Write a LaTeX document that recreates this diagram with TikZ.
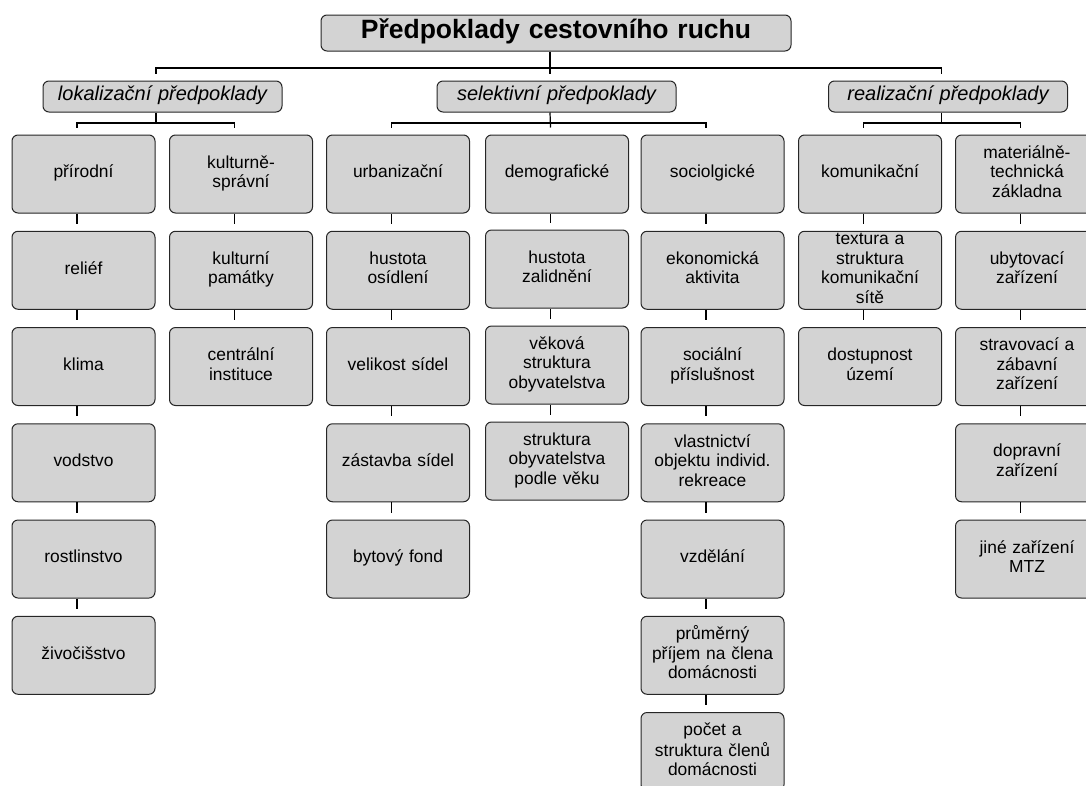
\documentclass[tikz,border=0pt]{standalone}
\usepackage{fontspec}
\setmainfont{Liberation Sans}
\definecolor{seda}{RGB}{211,211,211}
\tikzset{
  krabice/.style={draw=black!85, line width=1pt, fill=seda, rounded corners=6pt,
    minimum width=143pt, minimum height=78pt, text width=141pt, inner sep=0pt,
    align=center, font=\fontsize{17.4}{19.5}\selectfont,
    execute at begin node=\strut, execute at end node=\strut},
  skupina/.style={krabice, minimum width=239pt, minimum height=31pt, text width=237pt,
    font=\fontsize{20}{22}\selectfont\itshape},
  hlavni/.style={krabice, minimum width=470pt, minimum height=36pt, text width=468pt,
    font=\fontsize{26.5}{28}\selectfont\bfseries},
  spoj/.style={line width=1.2pt, black}
}
\begin{document}
\begin{tikzpicture}[x=1pt, y=-1pt]
        \useasboundingbox (0,0) rectangle (1086,785);

        % urovne vetveni
        \coordinate (l1) at (0,68);
        \coordinate (l3) at (0,123);

        % hlavni nadpis a skupiny
        \node[hlavni] (hlav) at (556,33) {Předpoklady cestovního ruchu};
        \node[skupina] (lok) at (162.5,96.5) {lokalizační předpoklady};
        \node[skupina] (sel) at (556.5,96.5) {selektivní předpoklady};
        \node[skupina] (real) at (948,96.5) {realizační předpoklady};

        % lokalizacni
        \node[krabice] (prir) at (83.5,174) {přírodní};
        \node[krabice] (relief) at (83.5,270.25) {reliéf};
        \node[krabice] (klima) at (83.5,366.5) {klima};
        \node[krabice] (vodstvo) at (83.5,462.75) {vodstvo};
        \node[krabice] (rostl) at (83.5,559) {rostlinstvo};
        \node[krabice] (zivoc) at (83.5,655.25) {živočišstvo};

        \node[krabice] (kult) at (241,174) {kulturně-\\správní};
        \node[krabice] (pamatky) at (241,270.25) {kulturní\\památky};
        \node[krabice] (instit) at (241,366.5) {centrální\\instituce};

        % selektivni
        \node[krabice] (urban) at (398,174) {urbanizační};
        \node[krabice] (osidl) at (398,270.25) {hustota\\osídlení};
        \node[krabice] (velik) at (398,366.5) {velikost sídel};
        \node[krabice] (zastav) at (398,462.75) {zástavba sídel};
        \node[krabice] (bytfond) at (398,559) {bytový fond};

        \node[krabice] (demo) at (557,174) {demografické};
        \node[krabice] (zalid) at (557,269) {hustota\\zalidnění};
        \node[krabice] (vekova) at (557,365) {věková\\struktura\\obyvatelstva};
        \node[krabice] (strukt) at (557,461) {struktura\\obyvatelstva\\podle věku};

        \node[krabice] (socio) at (712.5,174) {sociolgické};
        \node[krabice] (ekon) at (712.5,270.25) {ekonomická\\aktivita};
        \node[krabice] (social) at (712.5,366.5) {sociální\\příslušnost};
        \node[krabice] (vlastn) at (712.5,462.75) {vlastnictví\\objektu individ.\\rekreace};
        \node[krabice] (vzdel) at (712.5,559) {vzdělání};
        \node[krabice] (prijem) at (712.5,655.25) {průměrný\\příjem na člena\\domácnosti};
        \node[krabice] (pocet) at (712.5,751.5) {počet a\\struktura členů\\domácnosti};

        % realizacni
        \node[krabice] (komun) at (870,174) {komunikační};
        \node[krabice] (textura) at (870,270.25) {textura a\\struktura\\komunikační\\sítě};
        \node[krabice] (dostup) at (870,366.5) {dostupnost\\území};

        \node[krabice] (mtz) at (1027,174) {materiálně-\\technická\\základna};
        \node[krabice] (ubyt) at (1027,270.25) {ubytovací\\zařízení};
        \node[krabice] (strav) at (1027,366.5) {stravovací a\\zábavní\\zařízení};
        \node[krabice] (doprav) at (1027,462.75) {dopravní\\zařízení};
        \node[krabice] (jine) at (1027,559) {jiné zařízení\\MTZ};

        % vetveni pod nadpisem
        \draw[spoj] ([xshift=-6pt]hlav.south) -- ([xshift=-6pt]hlav.south |- l1);
        \draw[spoj] ([xshift=-6.5pt,yshift=7pt]lok.north) -- ([xshift=-6.5pt]lok.north |- l1)
          -- ([xshift=-6.5pt]real.north |- l1) -- ([xshift=-6.5pt,yshift=7pt]real.north);
        \draw[spoj] ([xshift=-6.5pt]sel.north |- l1) -- ([xshift=-6.5pt,yshift=7pt]sel.north);

        % vetveni pod skupinami
        \draw[spoj] ([xshift=-6.5pt]lok.south) -- ([xshift=-6.5pt]lok.south |- l3);
        \draw[spoj] ([xshift=-6.5pt,yshift=7pt]prir.north) -- ([xshift=-6.5pt]prir.north |- l3)
          -- ([xshift=-6.5pt]kult.north |- l3) -- ([xshift=-6.5pt,yshift=7pt]kult.north);
        \draw[spoj] ([xshift=-6.5pt]sel.south) -- ([xshift=-6.5pt,yshift=7pt]demo.north);
        \draw[spoj] ([xshift=-6.5pt,yshift=7pt]urban.north) -- ([xshift=-6.5pt]urban.north |- l3)
          -- ([xshift=-6.5pt]socio.north |- l3) -- ([xshift=-6.5pt,yshift=7pt]socio.north);
        \draw[spoj] ([xshift=-6.5pt]real.south) -- ([xshift=-6.5pt]real.south |- l3);
        \draw[spoj] ([xshift=-6.5pt,yshift=7pt]komun.north) -- ([xshift=-6.5pt]komun.north |- l3)
          -- ([xshift=-6.5pt]mtz.north |- l3) -- ([xshift=-6.5pt,yshift=7pt]mtz.north);

        % svisle spoje ve sloupcich
        \foreach \a/\b in {prir/relief, relief/klima, klima/vodstvo, vodstvo/rostl, rostl/zivoc,
            kult/pamatky, pamatky/instit,
            urban/osidl, osidl/velik, velik/zastav, zastav/bytfond,
            demo/zalid, zalid/vekova, vekova/strukt,
            socio/ekon, ekon/social, social/vlastn, vlastn/vzdel, vzdel/prijem, prijem/pocet,
            komun/textura, textura/dostup,
            mtz/ubyt, ubyt/strav, strav/doprav, doprav/jine}
          \draw[spoj] ([xshift=-6.5pt]\a.south) -- ([xshift=-6.5pt,yshift=7pt]\b.north);
\end{tikzpicture}
\end{document}
